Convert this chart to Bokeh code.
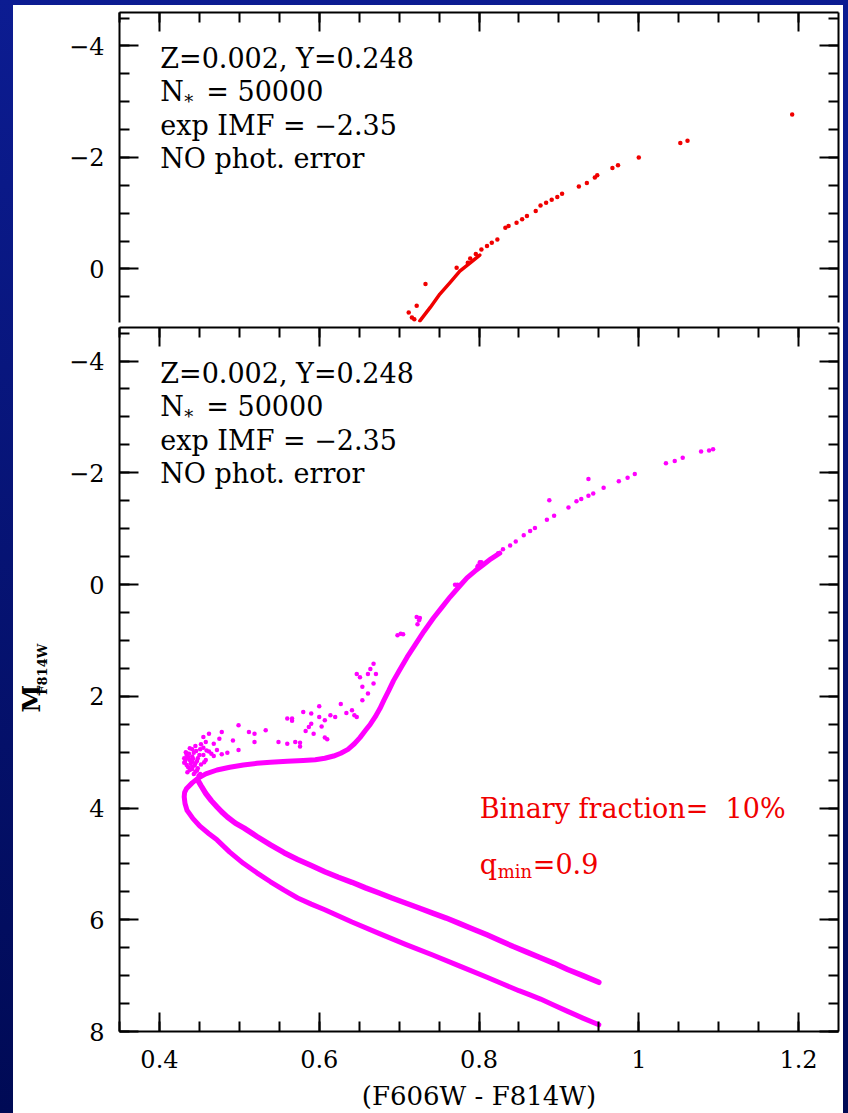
from math import pi
from bokeh.plotting import figure
from bokeh.models import (Range1d, SingleIntervalTicker, LinearAxis, Label,
                          CustomJSTickFormatter)
from bokeh.layouts import column, row
from bokeh.embed import file_html
from bokeh.resources import INLINE

# ---------------- data (colour F606W-F814W, magnitude M_F814W) ----------------
# single-star isochrone: MS -> turn-off -> SGB -> lower RGB (bottom panel)
single_x = [0.950, 0.930, 0.911, 0.894, 0.877, 0.863, 0.850, 0.830, 0.810, 0.776,
            0.742, 0.708, 0.674, 0.641, 0.607, 0.590, 0.573, 0.556, 0.539, 0.522,
            0.505, 0.488, 0.472, 0.462, 0.451, 0.442, 0.4345, 0.432, 0.431, 0.4315,
            0.434, 0.441, 0.448, 0.458, 0.472, 0.488, 0.505, 0.522, 0.539, 0.560,
            0.580, 0.595, 0.607, 0.618, 0.627, 0.636, 0.644, 0.651, 0.658, 0.664,
            0.670, 0.676, 0.681, 0.687, 0.693, 0.701, 0.710, 0.720, 0.731, 0.743,
            0.754, 0.764, 0.775, 0.785, 0.795, 0.805, 0.815, 0.826]
single_y = [7.88, 7.76, 7.64, 7.53, 7.42, 7.34, 7.27, 7.15, 7.03, 6.83,
            6.63, 6.44, 6.24, 6.04, 5.82, 5.72, 5.61, 5.47, 5.32, 5.16,
            4.99, 4.79, 4.57, 4.46, 4.33, 4.19, 4.04, 3.92, 3.80, 3.72,
            3.65, 3.55, 3.47, 3.39, 3.32, 3.27, 3.23, 3.20, 3.18, 3.165,
            3.15, 3.135, 3.11, 3.07, 3.02, 2.95, 2.85, 2.74, 2.61, 2.50,
            2.37, 2.22, 2.07, 1.90, 1.72, 1.52, 1.30, 1.08, 0.84, 0.60,
            0.40, 0.22, 0.04, -0.12, -0.24, -0.35, -0.46, -0.56]

# equal-mass binary sequence (q >= 0.9)
binary_x = [0.950, 0.930, 0.911, 0.894, 0.877, 0.860, 0.843, 0.826, 0.810, 0.793,
            0.776, 0.759, 0.742, 0.725, 0.708, 0.691, 0.675, 0.658, 0.641, 0.624,
            0.607, 0.590, 0.573, 0.556, 0.539, 0.522, 0.506, 0.495, 0.485, 0.478,
            0.472, 0.465, 0.458, 0.452, 0.448]
binary_y = [7.12, 7.00, 6.89, 6.78, 6.68, 6.58, 6.48, 6.37, 6.27, 6.17,
            6.07, 5.97, 5.88, 5.79, 5.70, 5.61, 5.52, 5.43, 5.33, 5.24,
            5.14, 5.03, 4.92, 4.80, 4.66, 4.51, 4.36, 4.27, 4.16, 4.07,
            3.98, 3.87, 3.74, 3.60, 3.50]

# scattered binaries on the sub-giant branch
sgb_bin_x = [0.600, 0.627, 0.580, 0.590, 0.600, 0.634, 0.641, 0.644, 0.607, 0.560,
             0.566, 0.590, 0.587, 0.603, 0.583, 0.499, 0.533, 0.593, 0.607, 0.478,
             0.512, 0.519, 0.462, 0.570, 0.576, 0.560, 0.549, 0.610, 0.519, 0.492,
             0.475, 0.455, 0.458, 0.468, 0.576, 0.445, 0.438, 0.451, 0.462, 0.472,
             0.485, 0.499, 0.434, 0.434, 0.441, 0.448, 0.438, 0.445, 0.434, 0.441,
             0.448, 0.438, 0.445, 0.451, 0.441, 0.455, 0.458, 0.468, 0.478, 0.431,
             0.432, 0.614, 0.647, 0.654, 0.661, 0.668, 0.651, 0.647, 0.664, 0.668,
             0.661, 0.671, 0.654, 0.620, 0.566, 0.698, 0.702, 0.722, 0.725, 0.799,
             0.803, 0.433, 0.437, 0.443, 0.436, 0.442, 0.447, 0.433, 0.439, 0.444,
             0.436, 0.431, 0.441, 0.447, 0.435, 0.443, 0.449, 0.452, 0.456, 0.450,
             0.446, 0.455, 0.459, 0.465, 0.452, 0.441]
sgb_bin_y = [2.18, 2.14, 2.28, 2.31, 2.37, 2.30, 2.25, 2.34, 2.43, 2.40,
             2.44, 2.49, 2.55, 2.54, 2.62, 2.52, 2.61, 2.67, 2.74, 2.64,
             2.64, 2.67, 2.67, 2.82, 2.83, 2.85, 2.82, 2.77, 2.82, 2.79,
             2.76, 2.73, 2.82, 2.85, 2.90, 2.89, 2.93, 2.95, 2.99, 2.96,
             3.01, 2.96, 3.02, 3.05, 3.08, 3.11, 3.14, 3.20, 3.23, 3.26,
             3.29, 3.32, 3.35, 3.39, 3.17, 3.05, 3.14, 3.07, 3.04, 3.11,
             3.17, 2.34, 2.37, 2.07, 1.95, 1.77, 1.66, 1.60, 1.51, 1.42,
             1.60, 1.60, 1.83, 2.37, 2.40, 0.91, 0.88, 0.58, 0.64, -0.34,
             -0.40, 3.00, 3.03, 3.01, 3.09, 3.12, 3.16, 3.13, 3.21, 3.24,
             3.27, 3.19, 3.30, 3.33, 3.36, 3.39, 3.42, 3.22, 3.18, 3.05,
             2.98, 2.92, 2.97, 3.03, 2.86, 2.95]

# bright RGB stars (bottom panel)
rgb_x = [1.093, 1.088, 1.078, 1.055, 1.045, 1.034, 0.995, 0.986, 0.975, 0.956,
         0.937, 0.943, 0.937, 0.928, 0.922, 0.912, 0.888, 0.894, 0.885, 0.870,
         0.864, 0.856, 0.846, 0.839, 0.830, 0.824, 0.801, 0.798, 0.770, 0.773,
         0.726, 0.723, 0.705]
rgb_y = [-2.42, -2.40, -2.38, -2.27, -2.21, -2.17, -1.98, -1.91, -1.85, -1.73,
         -1.89, -1.63, -1.59, -1.53, -1.49, -1.38, -1.51, -1.23, -1.16, -1.01,
         -0.96, -0.88, -0.77, -0.70, -0.63, -0.56, -0.40, -0.32, 0.005, 0.005,
         0.60, 0.71, 0.89]

# top panel: RGB stars
red_line_x = [0.726, 0.739, 0.751, 0.764, 0.776, 0.789, 0.801]
red_line_y = [0.93, 0.69, 0.45, 0.24, 0.04, -0.11, -0.25]
red_x = [1.192, 1.052, 1.061, 1.000, 0.974, 0.967, 0.948, 0.945, 0.935, 0.925,
         0.904, 0.898, 0.891, 0.884, 0.877, 0.871, 0.860, 0.854, 0.847, 0.837,
         0.833, 0.823, 0.816, 0.810, 0.803, 0.796, 0.789, 0.786, 0.772, 0.733,
         0.722, 0.712, 0.716, 0.719]
red_y = [-2.77, -2.26, -2.30, -2.00, -1.86, -1.81, -1.68, -1.64, -1.54, -1.48,
         -1.35, -1.29, -1.24, -1.19, -1.14, -1.04, -0.95, -0.89, -0.83, -0.77,
         -0.74, -0.53, -0.47, -0.41, -0.35, -0.27, -0.19, -0.11, -0.02, 0.27,
         0.66, 0.78, 0.87, 0.90]

info_lines = ["Z=0.002, Y=0.248", None, "exp IMF = \u22122.35", "NO phot. error"]
n_star_text = "= 50000"
binary_text = "Binary fraction=\u00a0 10%"
qmin_text = "=0.9"
x_label = "(F606W - F814W)"

X_RANGE = (0.35, 1.25)
TOP_Y = (0.96, -4.6)
BOT_Y = (8.0, -4.6)

SERIF = "DejaVu Serif"
MAGENTA = "#ff00ff"
RED = "#f00000"

FMT = """
const v = Math.round(tick * 100) / 100;
return (v < 0 ? "\u2212" : "") + Math.abs(v).toString();
"""
BLANK = 'return "";'


def make_axis(interval, labelled):
    ax = LinearAxis(ticker=SingleIntervalTicker(interval=interval, num_minor_ticks=4))
    ax.axis_line_color = "black"
    ax.axis_line_width = 2
    ax.major_tick_line_color = "black"
    ax.major_tick_line_width = 2
    ax.minor_tick_line_color = "black"
    ax.minor_tick_line_width = 2
    ax.major_tick_in = 19
    ax.major_tick_out = 0
    ax.minor_tick_in = 10
    ax.minor_tick_out = 0
    if labelled:
        ax.formatter = CustomJSTickFormatter(code=FMT)
        ax.major_label_text_font = SERIF
        ax.major_label_text_font_size = "24px"
        ax.major_label_text_color = "black"
    else:
        ax.formatter = CustomJSTickFormatter(code=BLANK)
        ax.major_label_text_font_size = "0px"
        ax.major_label_standoff = 0
    return ax


def make_fig(width, height, yr, left, top, bottom):
    p = figure(width=width, height=height, x_range=Range1d(*X_RANGE), y_range=Range1d(*yr),
               x_axis_location=None, y_axis_location=None,
               min_border_left=left, min_border_right=5, min_border_top=top,
               min_border_bottom=bottom, output_backend="svg", toolbar_location=None,
               background_fill_color="white", border_fill_color="white",
               outline_line_color=None)
    p.grid.visible = False
    return p


def txt(p, x, y, text, color="black", size="27px", xo=0, yo=0, angle=0.0,
        style="normal"):
    p.add_layout(Label(x=x, y=y, text=text,
                       text_font=SERIF, text_font_size=size, text_color=color,
                       x_offset=xo, y_offset=yo, angle=angle,
                       text_baseline="alphabetic", text_align="left",
                       text_font_style=style))


def info_block(p):
    ys = [-3.78, -3.18, -2.58, -1.98]
    x0 = 0.401
    for t, yy in zip(info_lines, ys):
        if t is not None:
            txt(p, x0, yy, t)
    txt(p, x0, ys[1], "N")
    txt(p, x0, ys[1], "*", size="18px", xo=24, yo=-10)
    txt(p, x0, ys[1], n_star_text, xo=46)


# ---------------- top panel ----------------
p1 = make_fig(830, 320, TOP_Y, 106, 7, 3)
left1 = make_axis(2, True)
left1.major_label_standoff = 15
p1.add_layout(left1, "left")
p1.add_layout(make_axis(2, False), "right")
p1.add_layout(make_axis(0.2, False), "above")
p1.line(red_line_x, red_line_y, line_color=RED, line_width=3.5, line_cap="round",
        line_join="round")
p1.scatter(red_x, red_y, size=4.5, fill_color=RED, line_color=None)
info_block(p1)

# ---------------- bottom panel ----------------
LAB_W = 45
p2 = make_fig(830 - LAB_W, 788, BOT_Y, 106 - LAB_W, 2, 81)
left2 = make_axis(2, True)
left2.major_label_standoff = 15
p2.add_layout(left2, "left")
p2.add_layout(make_axis(2, False), "right")
p2.add_layout(make_axis(0.2, False), "above")
bot = make_axis(0.2, True)
bot.major_label_standoff = 18
bot.axis_label = x_label
bot.axis_label_text_font = SERIF
bot.axis_label_text_font_size = "26px"
bot.axis_label_text_font_style = "normal"
bot.axis_label_text_color = "black"
bot.axis_label_standoff = 10
p2.add_layout(bot, "below")

p2.line(single_x, single_y, line_color=MAGENTA, line_width=5, line_cap="round",
        line_join="round")
p2.line(binary_x, binary_y, line_color=MAGENTA, line_width=5.5, line_cap="round",
        line_join="round")
p2.scatter(sgb_bin_x, sgb_bin_y, size=4.5, fill_color=MAGENTA, line_color=None)
p2.scatter(rgb_x, rgb_y, size=4.5, fill_color=MAGENTA, line_color=None)
info_block(p2)

txt(p2, 0.801, 4.0, binary_text, color=RED)
txt(p2, 0.801, 5.02, "q", color=RED)
txt(p2, 0.801, 5.02, "min", color=RED, size="18px", xo=18, yo=-7)
txt(p2, 0.801, 5.02, qmin_text, color=RED, xo=53)

# ---------------- y-axis title strip (M_F814W, rotated) ----------------
lab = figure(width=LAB_W, height=788, x_range=Range1d(0, LAB_W), y_range=Range1d(0, 788),
             x_axis_location=None, y_axis_location=None, min_border=0,
             output_backend="svg", toolbar_location=None, outline_line_color=None,
             background_fill_color="white", border_fill_color="white")
lab.grid.visible = False
txt(lab, 18, 357, "M", size="25px", angle=pi / 2, style="bold")
txt(lab, 29, 377, "F814W", size="13px", angle=pi / 2, style="bold")

inner = column(p1, row(lab, p2, spacing=0), spacing=0, styles={"background": "white"})
layout = column(inner,
                styles={"background": "linear-gradient(to bottom, #0c1c92, #000a55)",
                        "padding": "5px 5px 0px 13px"})

open("out.html", "w").write(file_html(layout, INLINE))
